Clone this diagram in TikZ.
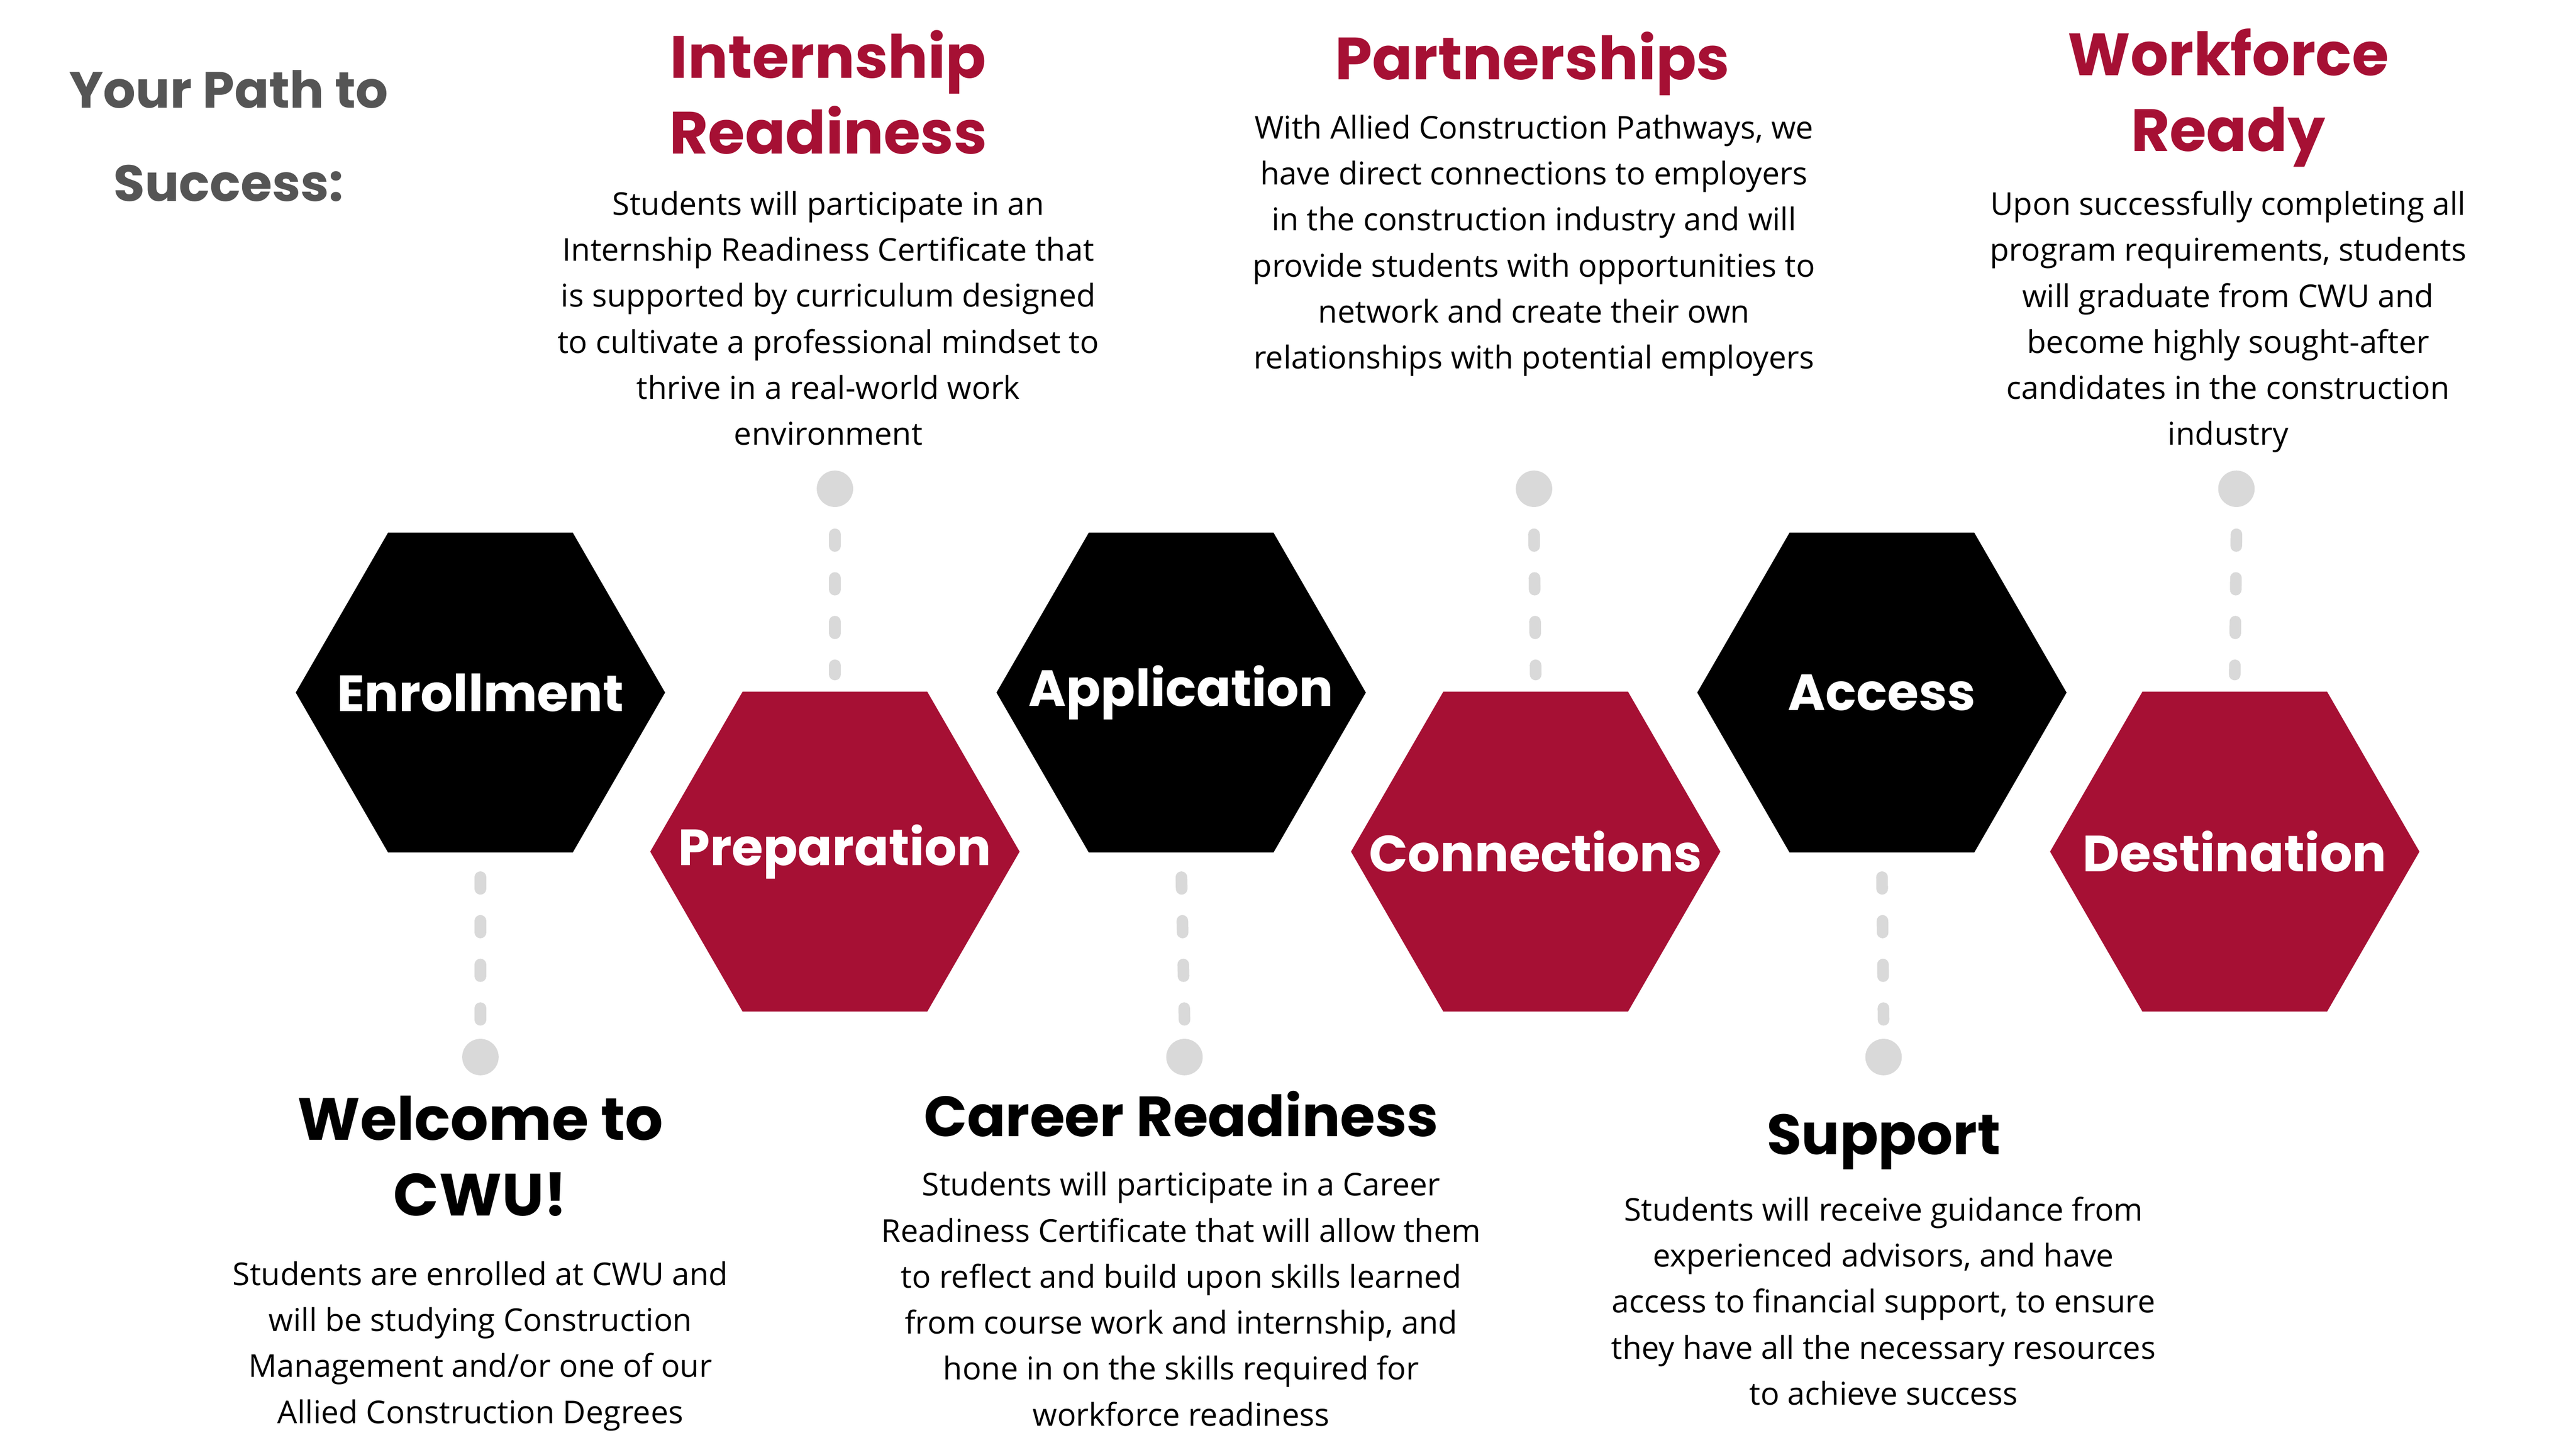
\documentclass[tikz,border=0pt]{standalone}
\usepackage{fontspec}
\setmainfont{Open Sans}
\newfontfamily\headfont{Poppins}[BoldFont={* Bold}]
\usetikzlibrary{shapes.geometric,positioning}
\definecolor{cwured}{RGB}{166,16,52}
\definecolor{pathgray}{RGB}{85,85,85}
\definecolor{dotgray}{RGB}{217,217,217}

\begin{document}
\begin{tikzpicture}[x=0.02cm, y=-0.02cm,
	hexbox/.style={regular polygon, regular polygon sides=6, minimum size=4.46cm, inner sep=0pt, draw=none, label={[text=white, font={\headfont\bfseries\fontsize{17.5}{20}\selectfont}]center:#1}},
	blackhex/.style={hexbox=#1, fill=black},
	redhex/.style={hexbox=#1, fill=cwured},
	dot/.style={circle, fill=dotgray, minimum size=0.44cm, inner sep=0pt},
	dashline/.style={draw=dotgray, line width=4pt, line cap=round, dash pattern=on 4pt off 11pt},
	title/.style={align=center, inner sep=0pt, anchor=north, font={\headfont\bfseries\fontsize{20.5}{26}\selectfont}},
	body/.style={align=center, inner sep=0pt, anchor=north, font={\fontsize{10.8}{15.8}\selectfont}}
	]
	\useasboundingbox (0,0) rectangle (1555,875);
	
	\node[title, text=pathgray, font={\headfont\bfseries\fontsize{17.5}{32}\selectfont}] (pathtitle) at (138,42) {Your Path to\\Success:};
	
	\node[blackhex=Enrollment] (enroll) at (290,418) {};
	\node[redhex=Preparation] (prep) at (504,514) {};
	\node[blackhex=Application] (appl) at (713,418) {};
	\node[redhex=Connections] (conn) at (927,514) {};
	\node[blackhex=Access] (access) at (1136,418) {};
	\node[redhex=Destination] (dest) at (1349,514) {};
	
	% dots and dashed links
	\node[dot] (prepdot) at (504,295) {};
	\node[dot] (conndot) at (926,295) {};
	\node[dot] (destdot) at (1350,295) {};
	\node[dot] (enrolldot) at (290,638) {};
	\node[dot] (appldot) at (715,638) {};
	\node[dot] (accessdot) at (1137,638) {};
	\draw[dashline] ([yshift=-0.55cm]prepdot.center) -- ([yshift=0.2cm]prep.north);
	\draw[dashline] ([yshift=-0.55cm]conndot.center) -- ([yshift=0.2cm]conn.north);
	\draw[dashline] ([yshift=-0.55cm]destdot.center) -- ([yshift=0.2cm]dest.north);
	\draw[dashline] ([yshift=0.45cm]enrolldot.center) -- ([yshift=-0.15cm]enroll.south);
	\draw[dashline] ([yshift=0.45cm]appldot.center) -- ([yshift=-0.15cm]appl.south);
	\draw[dashline] ([yshift=0.45cm]accessdot.center) -- ([yshift=-0.15cm]access.south);
	
	% top texts
	\node[title, text=cwured] (intern) at (500,18) {Internship\\Readiness};
	\node[body] (interntext) at (500,115) {Students will participate in an\\Internship Readiness Certificate that\\is supported by curriculum designed\\to cultivate a professional mindset to\\thrive in a real-world work\\environment};
	\node[title, text=cwured] (partner) at (925,19) {Partnerships};
	\node[body] (partnertext) at (926,69) {With Allied Construction Pathways, we\\have direct connections to employers\\in the construction industry and will\\provide students with opportunities to\\network and create their own\\relationships with potential employers};
	\node[title, text=cwured] (work) at (1345,17) {Workforce\\Ready};
	\node[body] (worktext) at (1345,115) {Upon successfully completing all\\program requirements, students\\will graduate from CWU and\\become highly sought-after\\candidates in the construction\\industry};
	
	% bottom texts
	\node[title] (welcome) at (290,661) {Welcome to\\CWU!};
	\node[body] (welcometext) at (290,761) {Students are enrolled at CWU and\\will be studying Construction\\Management and/or one of our\\Allied Construction Degrees};
	\node[title, font={\headfont\bfseries\fontsize{19.5}{26}\selectfont}] (career) at (713,658) {Career Readiness};
	\node[body] (careertext) at (713,707) {Students will participate in a Career\\Readiness Certificate that will allow them\\to reflect and build upon skills learned\\from course work and internship, and\\hone in on the skills required for\\workforce readiness};
	\node[title, font={\headfont\bfseries\fontsize{19.5}{26}\selectfont}] (support) at (1137,672) {Support};
	\node[body] (supporttext) at (1137,722) {Students will receive guidance from\\experienced advisors, and have\\access to financial support, to ensure\\they have all the necessary resources\\to achieve success};
\end{tikzpicture}
\end{document}
